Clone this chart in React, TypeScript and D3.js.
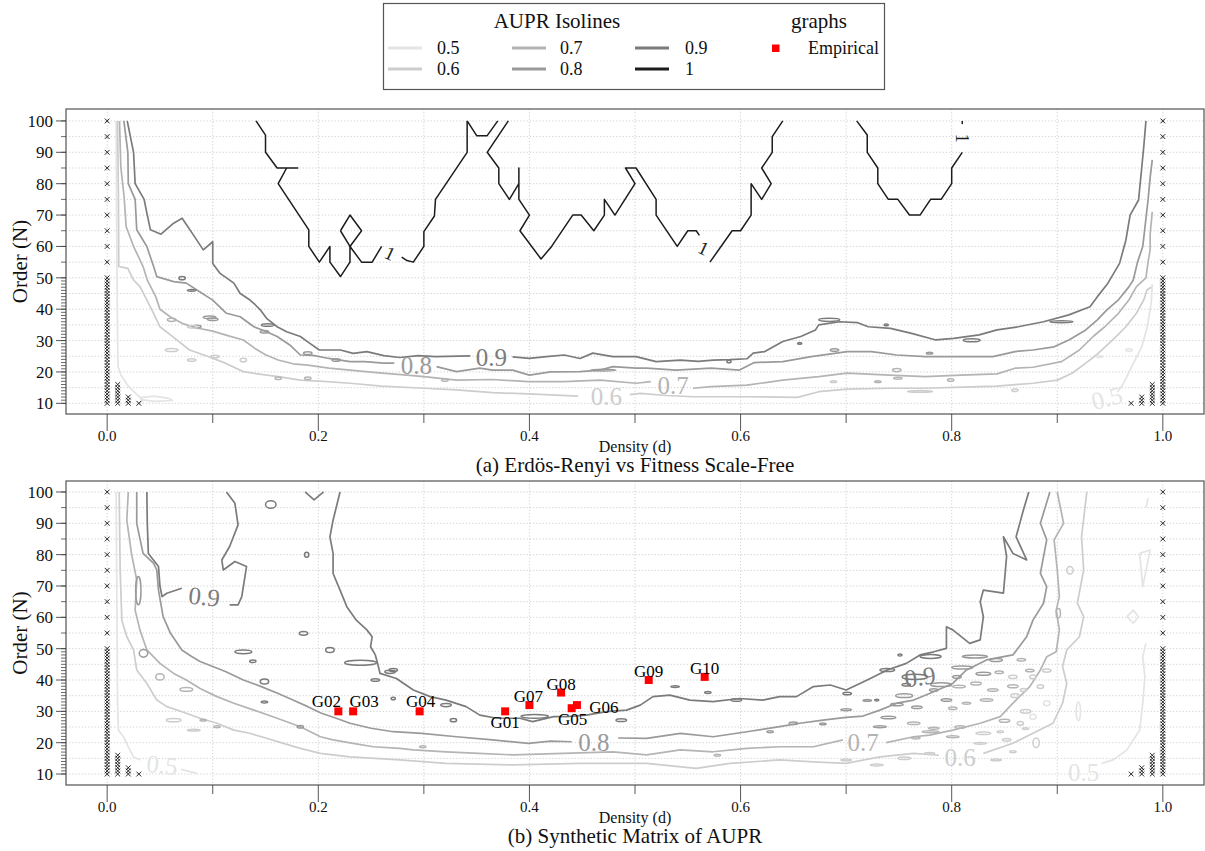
import React from 'react';
import * as d3 from 'd3';

type P = [number, number];

// ---------- levels / colours ----------
const LEVELS = ['0.5', '0.6', '0.7', '0.8', '0.9', '1'];
const LEVEL_COLORS: Record<string, string> = {
  '0.5': '#e4e4e4', '0.6': '#cdcdcd', '0.7': '#b4b4b4', '0.8': '#9a9a9a', '0.9': '#7b7b7b', '1': '#1c1c1c',
};

// ---------- grid of orders (N) used in the simulation ----------
const ORDERS = [10, 11, 12, 13, 14, 15, 16, 17, 18, 19, 20, 21, 22, 23, 24, 25, 26, 27, 28, 29, 30, 31, 32, 33, 34, 35, 36, 37, 38, 39, 40, 41, 42, 43, 44, 45, 46, 47, 48, 49, 50, 55, 60, 65, 70, 75, 80, 85, 90, 95, 100];
const X_MAJOR = [0, 0.2, 0.4, 0.6, 0.8, 1.0];
const X_MINOR = [0.1, 0.3, 0.5, 0.7, 0.9];
const X_GRID = [0, 0.1, 0.2, 0.3, 0.4, 0.5, 0.6, 0.7, 0.8, 0.9, 1.0];
const Y_MAJOR = [10, 20, 30, 40, 50, 60, 70, 80, 90, 100];
const Y_GRID = [10, 15, 20, 25, 30, 35, 40, 45, 50, 55, 60, 65, 70, 75, 80, 85, 90, 95, 100];

// cells without any edge (marked with x)
const EMPTY_COLS: [number, number[]][] = [
  [0, ORDERS],
  [0.01, [10, 11, 12, 13, 14, 15, 16]],
  [0.02, [10, 11, 12]],
  [0.03, [10]],
  [0.97, [10]],
  [0.98, [10, 11, 12]],
  [0.99, [10, 11, 12, 13, 14, 15, 16]],
  [1, ORDERS],
];

// ---------- panel (a) isolines ----------
const A_ISO_1: P[][] = [
  [[0.141, 100], [0.150, 95.5], [0.150, 90], [0.161, 85], [0.181, 85]],
  [[0.170, 85], [0.162, 80], [0.191, 65.3], [0.191, 60], [0.201, 55], [0.211, 60], [0.211, 55], [0.221, 50.4], [0.230, 55], [0.230, 60], [0.241, 55], [0.251, 55], [0.260, 60]],
  [[0.221, 65], [0.230, 70], [0.241, 65], [0.230, 60], [0.221, 65]],
  [[0.279, 56.6], [0.284, 55.5], [0.290, 55], [0.300, 60], [0.300, 64.7], [0.310, 69.7], [0.311, 75], [0.341, 90], [0.341, 100]],
  [[0.341, 100], [0.350, 95.3], [0.360, 95.3], [0.370, 100]],
  [[0.380, 100], [0.360, 90], [0.371, 85], [0.371, 80], [0.381, 75], [0.390, 80], [0.390, 85], [0.390, 75], [0.400, 70], [0.391, 65], [0.411, 56], [0.421, 60], [0.441, 70], [0.449, 70], [0.461, 65], [0.471, 70], [0.471, 75], [0.481, 70], [0.500, 80], [0.491, 85], [0.501, 85], [0.520, 75], [0.520, 70], [0.540, 60], [0.550, 65], [0.558, 65], [0.561, 63.5]],
  [[0.571, 55], [0.592, 65], [0.600, 65], [0.610, 70], [0.610, 80], [0.620, 75], [0.629, 80], [0.620, 85], [0.630, 90], [0.630, 95], [0.640, 100]],
  [[0.710, 100], [0.720, 95.5], [0.720, 90], [0.730, 85], [0.730, 80], [0.740, 75], [0.749, 75], [0.760, 70], [0.770, 70], [0.780, 75], [0.790, 75], [0.800, 80], [0.800, 85], [0.810, 90]],
  [[0.810, 99], [0.810, 100]],
];
const A_ISO_09: P[][] = [
  [[0.019, 100], [0.022, 95], [0.025, 90], [0.0265, 80], [0.035, 75], [0.038, 70], [0.041, 65.3], [0.051, 63.9], [0.063, 67.4], [0.071, 69], [0.081, 64], [0.091, 58.9], [0.100, 61.5], [0.100, 54.6], [0.107, 51.4], [0.120, 48.3], [0.126, 45], [0.135, 43], [0.140, 41.5], [0.145, 39.8], [0.151, 37.1], [0.161, 34.4], [0.170, 32.8], [0.183, 31.3], [0.192, 29.1], [0.201, 27], [0.221, 27], [0.233, 25.9], [0.246, 26.5], [0.262, 25.2], [0.277, 24.6], [0.295, 25.2], [0.311, 24.9], [0.344, 25.1]],
  [[0.384, 24.8], [0.400, 24.3], [0.416, 24.9], [0.433, 25.4], [0.448, 24.3], [0.460, 26], [0.479, 24.9], [0.501, 24.9], [0.520, 23.3], [0.543, 23.8], [0.560, 23.4], [0.574, 23.8], [0.590, 23.9], [0.606, 24.2], [0.612, 26], [0.623, 26.5], [0.640, 29.7], [0.657, 31.3], [0.671, 33.4], [0.674, 35], [0.694, 36], [0.711, 35.7], [0.721, 34.4], [0.742, 33.9], [0.762, 32.3], [0.785, 30.2], [0.802, 30.7], [0.826, 31.8], [0.843, 33.4], [0.863, 34.4], [0.887, 36], [0.911, 38.2], [0.931, 40.8], [0.938, 44], [0.948, 48.3], [0.959, 54.6], [0.965, 62], [0.969, 70], [0.977, 74.8], [0.980, 85], [0.982, 92], [0.984, 100]],
];
const A_ISO_08: P[][] = [
  [[0.0158, 100], [0.0196, 90], [0.020, 80], [0.0265, 75], [0.028, 65.3], [0.0376, 60], [0.044, 53.6], [0.047, 50.4], [0.063, 48.8], [0.075, 48.3], [0.085, 46.1], [0.100, 42.9], [0.113, 38.7], [0.126, 37.6], [0.139, 34.4], [0.151, 32.8], [0.161, 31.3], [0.173, 28.6], [0.183, 25.4], [0.195, 25.3], [0.210, 24.3], [0.230, 23.3], [0.244, 23.3], [0.262, 22.8], [0.272, 22.8]],
  [[0.312, 21.7], [0.331, 20.1], [0.353, 21.2], [0.365, 20.6], [0.384, 20.6], [0.400, 19], [0.420, 20], [0.448, 20.1], [0.467, 20.6], [0.479, 21.7], [0.501, 21.2], [0.511, 21.2], [0.539, 20.6], [0.572, 21.2], [0.599, 20.6], [0.613, 23], [0.640, 23.3], [0.667, 24.9], [0.701, 26.5], [0.724, 26.5], [0.748, 25.4], [0.775, 24.9], [0.809, 24.9], [0.839, 24.9], [0.860, 26.5], [0.877, 27], [0.897, 28], [0.911, 30.2], [0.927, 33.4], [0.938, 36.6], [0.947, 39.8], [0.958, 43], [0.968, 47.2], [0.972, 49.3], [0.976, 55], [0.981, 60], [0.986, 74.8], [0.988, 82], [0.990, 87.6]],
];
const A_ISO_07: P[][] = [
  [[0.0117, 100], [0.0129, 85.5], [0.016, 75.9], [0.018, 66.3], [0.025, 60], [0.034, 53.6], [0.038, 49.3], [0.046, 44], [0.050, 40], [0.060, 37.5], [0.071, 35.5], [0.085, 34], [0.100, 33], [0.115, 31.5], [0.129, 30.2], [0.140, 27.5], [0.150, 25.5], [0.162, 23.8], [0.176, 22.6], [0.190, 22.2], [0.210, 21.2], [0.230, 20.6], [0.255, 19.8], [0.284, 19], [0.300, 18.5], [0.331, 17.4], [0.365, 17.6], [0.399, 16.9], [0.433, 16.9], [0.467, 17.4], [0.501, 16.4], [0.515, 16.9]],
  [[0.555, 14.8], [0.572, 15.3], [0.606, 15.8], [0.640, 17.4], [0.674, 18.5], [0.701, 19.6], [0.741, 19], [0.775, 18.5], [0.809, 19], [0.843, 19.4], [0.860, 21.2], [0.877, 21.5], [0.904, 23.3], [0.921, 27], [0.934, 31.3], [0.945, 34.4], [0.958, 38.7], [0.968, 43], [0.975, 47.2], [0.984, 50], [0.986, 55], [0.988, 59], [0.988, 64], [0.990, 71]],
];
const A_ISO_06: P[][] = [
  [[0.0098, 100], [0.0107, 75], [0.011, 53.6], [0.0196, 53], [0.025, 49.3], [0.031, 47.2], [0.0376, 43], [0.044, 38.7], [0.050, 34.4], [0.063, 31], [0.078, 27], [0.095, 25], [0.112, 22.8], [0.129, 20.1], [0.146, 19.2], [0.162, 18.5], [0.183, 17.4], [0.205, 17], [0.230, 16.4], [0.260, 15.5], [0.300, 14.8], [0.331, 14.3], [0.365, 13.4], [0.399, 13], [0.446, 12.3]],
  [[0.495, 12.8], [0.505, 13.2], [0.530, 12.5], [0.555, 12.1], [0.606, 12.1], [0.654, 11.9], [0.674, 13.7], [0.701, 14.5], [0.741, 14.8], [0.775, 14.8], [0.802, 15.1], [0.843, 15.5], [0.877, 16.4], [0.900, 17.4], [0.914, 19.6], [0.927, 22.8], [0.937, 25.4], [0.954, 30.7], [0.965, 34.4], [0.975, 38.7], [0.982, 43], [0.985, 46.1], [0.989, 47]],
];
const A_ISO_05: P[][] = [
  [[0.0085, 100], [0.009, 64], [0.0098, 32], [0.0103, 21.7], [0.013, 19], [0.0204, 15.3], [0.026, 13.5], [0.034, 11], [0.030, 10]],
  [[0.032, 11.8], [0.045, 12.3], [0.058, 11.6], [0.062, 10.9], [0.045, 10.6], [0.032, 11.2], [0.032, 11.8]],
  [[0.957, 13.5], [0.963, 16.5], [0.971, 22], [0.980, 28], [0.985, 34], [0.989, 42], [0.990, 48]],
];

// islands: [level, d, N, half-width in d, half-height in N]
const A_ISLANDS: [string, number, number, number, number][] = [
  ['0.9', 0.071, 49.9, 0.003, 0.5], ['0.9', 0.080, 46, 0.004, 0.3], ['0.8', 0.100, 36.8, 0.005, 0.4],
  ['0.8', 0.085, 34.5, 0.004, 0.4], ['0.7', 0.061, 36.6, 0.004, 0.5], ['0.6', 0.081, 34.4, 0.005, 0.4],
  ['0.8', 0.097, 37.4, 0.006, 0.4], ['0.9', 0.152, 35, 0.006, 0.4], ['0.8', 0.149, 32.8, 0.004, 0.4],
  ['0.8', 0.190, 26, 0.004, 0.4], ['0.8', 0.217, 23.8, 0.004, 0.4], ['0.6', 0.061, 27, 0.006, 0.5],
  ['0.6', 0.080, 23.8, 0.004, 0.4], ['0.6', 0.102, 24.9, 0.004, 0.4], ['0.6', 0.129, 23.8, 0.003, 0.6],
  ['0.7', 0.162, 18, 0.003, 0.4], ['0.7', 0.190, 18, 0.003, 0.4], ['0.7', 0.320, 17.4, 0.003, 0.4],
  ['0.8', 0.470, 20.6, 0.012, 0.3], ['0.9', 0.684, 36.6, 0.010, 0.5], ['0.9', 0.819, 30.1, 0.008, 0.5],
  ['0.9', 0.904, 36, 0.011, 0.3], ['0.8', 0.689, 27, 0.004, 0.4], ['0.7', 0.748, 20.6, 0.004, 0.5],
  ['0.7', 0.749, 18, 0.004, 0.3], ['0.7', 0.799, 17.4, 0.003, 0.4], ['0.6', 0.860, 14.2, 0.003, 0.4],
  ['0.6', 0.770, 13.8, 0.012, 0.3], ['0.5', 0.968, 27, 0.003, 0.4], ['0.9', 0.589, 23.3, 0.002, 0.4],
  ['0.9', 0.738, 35, 0.002, 0.3], ['0.9', 0.656, 29.1, 0.002, 0.3], ['0.8', 0.779, 26, 0.003, 0.3],
  ['0.7', 0.730, 16.9, 0.003, 0.3], ['0.6', 0.688, 16.9, 0.003, 0.3], ['0.5', 0.940, 24.9, 0.003, 0.3],
];
// labels: [level, d, N, rotation]
const A_LABELS: [string, number, number, number][] = [
  ['0.8', 0.293, 21.9, 0], ['0.9', 0.364, 24.6, 0], ['0.7', 0.536, 15.8, 0], ['0.6', 0.473, 12.3, 0],
  ['0.5', 0.947, 11.7, -15], ['1', 0.268, 57.8, 25], ['1', 0.565, 59.5, 25], ['1', 0.810, 94.5, 90],
];

// ---------- panel (b) isolines ----------
const B_ISO_09: P[][] = [
  [[0.0376, 100], [0.038, 90], [0.039, 80.4], [0.0486, 76.2], [0.050, 70], [0.052, 66.6], [0.0565, 67.7], [0.0707, 69.3]],
  [[0.116, 64], [0.124, 64], [0.1275, 66.6], [0.132, 76.2], [0.121, 77.8], [0.110, 75.1], [0.1086, 78.3], [0.116, 82.6], [0.124, 89.5], [0.121, 96.4], [0.113, 100]],
  [[0.2206, 100], [0.214, 91], [0.211, 85.7], [0.214, 80.4], [0.214, 74], [0.2206, 68.7], [0.227, 63.4], [0.236, 59.1], [0.246, 56], [0.251, 53.8], [0.2495, 50.6], [0.254, 48], [0.256, 45.5], [0.2585, 42.1], [0.274, 40.5], [0.290, 36.8], [0.306, 34.7], [0.321, 33.6], [0.340, 31.5], [0.353, 28.8], [0.369, 27.8], [0.391, 27.8], [0.403, 26.7], [0.423, 28.3], [0.435, 28.3], [0.454, 28.8], [0.473, 29.9], [0.492, 30.4], [0.505, 32], [0.517, 34.7], [0.533, 35.2], [0.552, 33.6], [0.574, 33.1], [0.599, 34.1], [0.621, 33.6], [0.637, 34.7], [0.653, 34.7], [0.669, 37.9], [0.685, 38.4], [0.700, 36.8], [0.720, 40], [0.739, 43.2], [0.757, 45.3], [0.770, 48], [0.783, 49], [0.795, 50.1], [0.795, 57], [0.801, 56], [0.817, 51.7], [0.827, 52.8], [0.830, 60.2], [0.827, 65], [0.830, 68.7], [0.849, 67.7], [0.852, 79.4], [0.849, 85.7], [0.858, 80.4], [0.871, 78.3], [0.861, 85.7], [0.868, 94.3], [0.873, 100]],
  [[0.1875, 100], [0.196, 97.5], [0.205, 100]],
];
const B_ISO_08: P[][] = [
  [[0.028, 100], [0.028, 90], [0.034, 80.4], [0.044, 77.2], [0.047, 75.1], [0.0486, 68.7], [0.053, 60.2], [0.060, 54.9], [0.0707, 49.6], [0.080, 47.5], [0.088, 45.9], [0.100, 44.3], [0.112, 42.7], [0.129, 40], [0.146, 37.9], [0.162, 35.7], [0.176, 33.6], [0.190, 31.5], [0.203, 29.4], [0.217, 27.8], [0.230, 26.2], [0.250, 24.6], [0.271, 23.5], [0.298, 23], [0.331, 21.9], [0.365, 20.9], [0.399, 19.8], [0.420, 20.5], [0.440, 20.3]],
  [[0.484, 21.5], [0.511, 21.4], [0.543, 23], [0.574, 21.9], [0.606, 23.5], [0.637, 25.1], [0.656, 26.2], [0.678, 27.2], [0.700, 28.1], [0.716, 28.5], [0.732, 30.4], [0.748, 32.6], [0.764, 33.6], [0.779, 35.7], [0.801, 38.9], [0.814, 43.2], [0.833, 46.4], [0.858, 48], [0.871, 53.8], [0.877, 59.1], [0.887, 64.5], [0.890, 69.8], [0.884, 74], [0.890, 84.7], [0.884, 90], [0.893, 100]],
];
const B_ISO_07: P[][] = [
  [[0.020, 100], [0.0186, 91], [0.023, 80.4], [0.028, 71.9], [0.0265, 62.3], [0.031, 56], [0.0376, 49.6], [0.050, 45.3], [0.063, 42.1], [0.075, 40], [0.088, 37.3], [0.104, 34.7], [0.120, 32.6], [0.139, 30.4], [0.161, 27.8], [0.183, 25.1], [0.202, 21.9], [0.214, 20.9], [0.233, 19.8], [0.252, 18.7], [0.277, 18.2], [0.290, 17.7], [0.321, 17.1], [0.352, 16.6], [0.385, 16.1], [0.432, 16.6], [0.479, 17.1], [0.511, 16.1], [0.543, 17.7], [0.574, 17.1], [0.606, 18.2], [0.637, 18.7], [0.669, 18.7], [0.697, 20.9]],
  [[0.738, 20], [0.764, 21.9], [0.779, 22.4], [0.801, 24], [0.827, 26.2], [0.846, 28.3], [0.858, 32.6], [0.874, 37.9], [0.884, 43.2], [0.890, 47.4], [0.899, 49], [0.902, 56], [0.899, 62.3], [0.902, 66.6], [0.900, 75.1], [0.897, 84.7], [0.906, 90], [0.900, 100]],
];
const B_ISO_06: P[][] = [
  [[0.0114, 100], [0.0123, 75.1], [0.0139, 59.1], [0.0186, 53.8], [0.025, 49.6], [0.028, 43.2], [0.0376, 38.9], [0.047, 33.6], [0.0565, 31.5], [0.075, 29.4], [0.088, 27.8], [0.104, 26.2], [0.120, 24], [0.135, 23], [0.151, 21.4], [0.167, 19.8], [0.183, 18.2], [0.202, 16.6], [0.230, 15.5], [0.277, 14.5], [0.321, 13.4], [0.385, 12.9], [0.448, 13.4], [0.511, 13.4], [0.558, 11.8], [0.590, 13.4], [0.637, 14.5], [0.669, 13.9], [0.700, 13.4], [0.732, 15.5], [0.764, 16.6], [0.788, 16]],
  [[0.830, 16.6], [0.858, 19.8], [0.877, 23], [0.896, 26.2], [0.905, 32.6], [0.909, 38.9], [0.905, 44.3], [0.909, 49.6], [0.921, 53.8], [0.925, 60.2], [0.919, 64.5], [0.925, 75.1], [0.923, 85.7], [0.928, 100]],
];
const B_ISO_05: P[][] = [
  [[0.0085, 100], [0.0092, 64.5], [0.0098, 32.6], [0.0107, 24], [0.0155, 21.9], [0.020, 18.7], [0.025, 15.5], [0.031, 14.5]],
  [[0.070, 11.5], [0.085, 10.2]],
  [[0.942, 13.4], [0.953, 14.5], [0.966, 17.7], [0.978, 24], [0.981, 32.6], [0.983, 41], [0.981, 47.4], [0.984, 51.7]],
  [[0.966, 60.2], [0.972, 62.3], [0.977, 60.2], [0.972, 58.1], [0.966, 60.2]],
  [[0.978, 80.4], [0.988, 81.5], [0.981, 69.8], [0.978, 80.4]],
  [[0.984, 95], [0.986, 98]],
];
const B_ISLANDS: [string, number, number, number, number][] = [
  ['0.8', 0.0344, 48.5, 0.004, 1.2], ['0.7', 0.050, 41, 0.004, 1.0], ['0.7', 0.075, 37, 0.006, 0.6],
  ['0.6', 0.063, 27.2, 0.007, 0.5], ['0.7', 0.091, 27.2, 0.003, 0.3], ['0.7', 0.104, 25.1, 0.003, 0.3],
  ['0.6', 0.082, 24, 0.006, 0.3], ['0.8', 0.0295, 68.5, 0.0025, 4.5], ['0.9', 0.129, 49, 0.008, 0.6],
  ['0.9', 0.138, 46, 0.003, 0.4], ['0.9', 0.186, 54.9, 0.004, 0.6], ['0.9', 0.189, 80, 0.002, 0.8],
  ['0.9', 0.211, 49.6, 0.004, 0.8], ['0.9', 0.155, 96, 0.005, 1.2], ['0.9', 0.240, 45.5, 0.015, 0.8],
  ['0.9', 0.271, 43.2, 0.004, 0.5], ['0.9', 0.254, 40, 0.004, 0.4], ['0.9', 0.149, 39.5, 0.004, 0.8],
  ['0.9', 0.149, 33, 0.003, 0.3], ['0.8', 0.183, 25.1, 0.003, 0.4], ['0.9', 0.328, 27.2, 0.003, 0.5],
  ['0.9', 0.405, 28.4, 0.013, 0.6], ['0.9', 0.487, 27.2, 0.005, 0.4], ['0.9', 0.271, 34.1, 0.002, 0.4],
  ['0.9', 0.321, 32, 0.005, 0.5], ['0.9', 0.268, 42.6, 0.005, 0.5], ['0.9', 0.596, 33.6, 0.005, 0.4],
  ['0.9', 0.538, 37.9, 0.004, 0.3], ['0.9', 0.569, 36, 0.003, 0.3], ['0.8', 0.650, 26.2, 0.004, 0.4],
  ['0.8', 0.628, 23.5, 0.003, 0.3], ['0.7', 0.578, 16, 0.003, 0.3], ['0.7', 0.299, 18.7, 0.003, 0.3],
  ['0.9', 0.751, 48, 0.002, 0.3], ['0.9', 0.780, 47.5, 0.010, 0.6], ['0.9', 0.739, 43.2, 0.007, 0.5],
  ['0.9', 0.765, 41, 0.012, 0.8], ['0.9', 0.701, 35.7, 0.004, 0.4], ['0.8', 0.755, 35, 0.008, 0.6],
  ['0.8', 0.790, 38.5, 0.010, 0.6], ['0.8', 0.810, 44, 0.010, 0.5], ['0.8', 0.822, 47.5, 0.012, 0.5],
  ['0.8', 0.842, 46.4, 0.006, 0.5], ['0.8', 0.830, 42, 0.007, 0.5], ['0.7', 0.801, 31, 0.004, 0.4],
  ['0.7', 0.833, 33.6, 0.006, 0.4], ['0.7', 0.858, 38, 0.005, 0.5], ['0.7', 0.874, 43, 0.004, 0.4],
  ['0.6', 0.890, 43, 0.004, 0.5], ['0.8', 0.740, 28, 0.007, 0.4], ['0.8', 0.700, 30.5, 0.005, 0.3],
  ['0.8', 0.678, 26, 0.003, 0.3], ['0.7', 0.808, 25, 0.005, 0.4], ['0.7', 0.766, 21.5, 0.004, 0.3],
  ['0.7', 0.780, 23.5, 0.008, 0.3], ['0.6', 0.830, 23, 0.007, 0.4], ['0.6', 0.846, 23.5, 0.003, 0.3],
  ['0.6', 0.755, 15, 0.006, 0.4], ['0.7', 0.850, 27, 0.005, 0.5], ['0.6', 0.870, 30, 0.005, 0.6],
  ['0.6', 0.860, 35, 0.004, 0.6], ['0.6', 0.880, 20, 0.003, 1.5], ['0.5', 0.920, 30, 0.002, 3],
  ['0.6', 0.912, 75, 0.003, 1.2], ['0.7', 0.901, 61.3, 0.002, 1.5],
  ['0.9', 0.729, 33.6, 0.002, 0.3], ['0.8', 0.748, 32.2, 0.006, 0.4], ['0.8', 0.767, 31.3, 0.005, 0.4],
  ['0.8', 0.783, 36.8, 0.004, 0.4], ['0.8', 0.795, 33.6, 0.005, 0.4], ['0.7', 0.807, 37.9, 0.006, 0.4],
  ['0.7', 0.823, 38.9, 0.005, 0.5], ['0.7', 0.814, 32.6, 0.004, 0.3], ['0.7', 0.839, 36.8, 0.005, 0.4],
  ['0.6', 0.858, 41, 0.004, 0.5], ['0.6', 0.868, 36.8, 0.003, 0.5], ['0.6', 0.877, 41, 0.003, 0.6],
  ['0.6', 0.884, 37.9, 0.003, 0.6], ['0.5', 0.890, 32.6, 0.003, 0.8], ['0.8', 0.732, 25.1, 0.006, 0.3],
  ['0.7', 0.764, 26.2, 0.006, 0.4], ['0.7', 0.783, 24.6, 0.005, 0.3], ['0.7', 0.801, 21.9, 0.006, 0.3],
  ['0.6', 0.827, 19.8, 0.006, 0.3], ['0.6', 0.852, 20.9, 0.004, 0.4], ['0.6', 0.865, 26.2, 0.003, 0.6],
  ['0.5', 0.877, 28.3, 0.003, 0.8], ['0.6', 0.779, 16.6, 0.005, 0.3], ['0.6', 0.842, 14.5, 0.005, 0.3],
  ['0.6', 0.858, 17.1, 0.003, 0.3], ['0.6', 0.700, 14.5, 0.005, 0.3], ['0.6', 0.729, 12.9, 0.006, 0.3],
  ['0.8', 0.720, 33.5, 0.004, 0.3], ['0.9', 0.757, 38.5, 0.004, 0.4], ['0.8', 0.805, 41, 0.004, 0.4],
  ['0.7', 0.845, 42.5, 0.004, 0.4], ['0.7', 0.866, 46.5, 0.004, 0.4], ['0.6', 0.870, 24.5, 0.003, 0.3],
];
const B_LABELS: [string, number, number, number][] = [
  ['0.9', 0.092, 66.6, 6], ['0.5', 0.052, 12.9, 6], ['0.8', 0.461, 20.2, 0], ['0.9', 0.770, 41, -8],
  ['0.7', 0.716, 20.2, 0], ['0.6', 0.808, 15.4, 0], ['0.5', 0.925, 10.6, 0],
];

// ---------- empirical graphs ----------
const GRAPH_NAMES = ['G01', 'G02', 'G03', 'G04', 'G05', 'G06', 'G07', 'G08', 'G09', 'G10'];
const GRAPH_DENSITY = [0.377, 0.219, 0.233, 0.296, 0.440, 0.445, 0.400, 0.430, 0.513, 0.566];
const GRAPH_ORDER = [30, 30, 30, 30, 31, 32, 32, 36, 40, 41];
// label offsets in pixels (text centre x, baseline y) relative to the point
const GRAPH_LABEL_OFFSET: [number, number][] = [
  [0, 17], [-12, -4], [11, -4], [1, -4], [1, 17], [27, 8], [-1, -3], [0, -3], [0, -3], [0, -3],
];

const FONT = "'Liberation Serif', 'Times New Roman', Times, serif";
const X_RANGE: [number, number] = [66, 1204];
const X_DOMAIN: [number, number] = [-0.039, 1.039];

type PanelProps = {
  top: number; bottom: number; yDomain: [number, number]; title: string;
  iso: Record<string, P[][]>; islands: [string, number, number, number, number][];
  labels: [string, number, number, number][]; showGraphs: boolean; id: string;
};

const T = (size: number): React.CSSProperties => ({ fontFamily: FONT, fontSize: size });

function Panel(props: PanelProps) {
  const { top, bottom, yDomain, title, iso, islands, labels, showGraphs, id } = props;
  const x = d3.scaleLinear().domain(X_DOMAIN).range(X_RANGE);
  const y = d3.scaleLinear().domain(yDomain).range([bottom, top]);
  const line = d3.line<P>().x((p) => x(p[0])).y((p) => y(p[1]));
  const [x0, x1] = X_RANGE;
  const cx = (x0 + x1) / 2;
  return (
    <g>
      <defs>
        <clipPath id={id}>
          <rect x={x0} y={top} width={x1 - x0} height={bottom - top} />
        </clipPath>
      </defs>
      <rect x={x0} y={top} width={x1 - x0} height={bottom - top} fill="#fff" />
      {X_GRID.map((v) => (
        <line key={'gx' + v} x1={x(v)} x2={x(v)} y1={top} y2={bottom} stroke="#c4c4c4" strokeWidth={0.8} strokeDasharray="1.2,2" />
      ))}
      {Y_GRID.map((v) => (
        <line key={'gy' + v} x1={x0} x2={x1} y1={y(v)} y2={y(v)} stroke="#c4c4c4" strokeWidth={0.8} strokeDasharray="1.2,2" />
      ))}
      <g clipPath={`url(#${id})`}>
        {LEVELS.map((lv) =>
          (iso[lv] || []).map((pts, i) => (
            <path key={lv + '-' + i} d={line(pts) || ''} fill="none" stroke={LEVEL_COLORS[lv]} strokeWidth={lv === '1' ? 1.5 : 1.7} strokeLinejoin="round" />
          ))
        )}
        {islands.map(([lv, d, n, rd, rn], i) => (
          <ellipse key={'is' + i} cx={x(d)} cy={y(n)} rx={Math.abs(x(d + rd) - x(d))} ry={Math.abs(y(n + rn) - y(n))} fill="none" stroke={LEVEL_COLORS[lv]} strokeWidth={1.5} />
        ))}
        {labels.map(([lv, d, n, rot], i) => (
          <text key={'lb' + i} transform={`translate(${x(d)},${y(n)}) rotate(${rot})`} textAnchor="middle" dominantBaseline="central" style={T(lv === '1' ? 19 : 25)} fill={LEVEL_COLORS[lv]}>{lv}</text>
        ))}
        {EMPTY_COLS.map(([d, ns]) =>
          ns.map((n) => {
            const px = x(d), py = y(n), s = 2.4;
            return (
              <g key={'m' + d + '-' + n} stroke="#111" strokeWidth={0.9}>
                <line x1={px - s} y1={py - s} x2={px + s} y2={py + s} />
                <line x1={px - s} y1={py + s} x2={px + s} y2={py - s} />
              </g>
            );
          })
        )}
        {showGraphs && GRAPH_NAMES.map((g, i) => {
          const px = x(GRAPH_DENSITY[i]), py = y(GRAPH_ORDER[i]);
          return <rect key={'gp' + g} x={px - 4} y={py - 4} width={8} height={8} fill="#ff0000" />;
        })}
        {showGraphs && GRAPH_NAMES.map((g, i) => {
          const px = x(GRAPH_DENSITY[i]), py = y(GRAPH_ORDER[i]);
          const [dx, dy] = GRAPH_LABEL_OFFSET[i];
          return <text key={'gl' + g} x={px + dx} y={py + dy} textAnchor="middle" style={T(17)} fill="#000">{g}</text>;
        })}
      </g>
      <rect x={x0} y={top} width={x1 - x0} height={bottom - top} fill="none" stroke="#606060" strokeWidth={1.3} />
      {ORDERS.map((n) => (
        <line key={'yt' + n} x1={x0} x2={x0 - 5} y1={y(n)} y2={y(n)} stroke="#444" strokeWidth={0.8} />
      ))}
      {Y_MAJOR.map((n) => (
        <g key={'ym' + n}>
          <line x1={x0} x2={x0 - 10} y1={y(n)} y2={y(n)} stroke="#444" strokeWidth={0.9} />
          <text x={x0 - 13} y={y(n)} dy="0.35em" textAnchor="end" style={T(17)} fill="#111">{n}</text>
        </g>
      ))}
      <text transform={`translate(27,${(top + bottom) / 2}) rotate(-90)`} textAnchor="middle" style={T(21)} fill="#111">Order (N)</text>
      {X_MINOR.map((v) => (
        <line key={'xm' + v} x1={x(v)} x2={x(v)} y1={bottom} y2={bottom + 9} stroke="#444" strokeWidth={0.9} />
      ))}
      {X_MAJOR.map((v) => (
        <g key={'xM' + v}>
          <line x1={x(v)} x2={x(v)} y1={bottom} y2={bottom + 17} stroke="#444" strokeWidth={0.9} />
          <text x={x(v)} y={bottom + 27} textAnchor="middle" style={T(15)} fill="#111">{v.toFixed(1)}</text>
        </g>
      ))}
      <text x={cx} y={bottom + 38} textAnchor="middle" style={T(16)} fill="#111">Density (d)</text>
      <text x={cx} y={bottom + 58} textAnchor="middle" style={T(21)} fill="#111">{title}</text>
    </g>
  );
}

function Legend() {
  const cols = [[388, 422, 437], [512, 546, 560], [635, 669, 685]];
  const rows = [48, 69];
  return (
    <g>
      <rect x={383.5} y={3.5} width={501} height={86} fill="#fff" stroke="#555" strokeWidth={1.2} />
      <text x={557} y={28} textAnchor="middle" style={T(21)} fill="#111">AUPR Isolines</text>
      <text x={819} y={28} textAnchor="middle" style={T(21)} fill="#111">graphs</text>
      {LEVELS.map((lv, i) => {
        const c = cols[Math.floor(i / 2)], r = rows[i % 2];
        return (
          <g key={'lg' + lv}>
            <line x1={c[0]} x2={c[1]} y1={r} y2={r} stroke={LEVEL_COLORS[lv]} strokeWidth={2.8} />
            <text x={c[2]} y={r} dy="0.35em" style={T(18)} fill="#111">{lv}</text>
          </g>
        );
      })}
      <rect x={772} y={44.5} width={7.5} height={7.5} fill="#ff0000" />
      <text x={808} y={48} dy="0.35em" style={T(18)} fill="#111">Empirical</text>
    </g>
  );
}

export default function App() {
  return (
    <svg width={1205} height={851} viewBox="0 0 1205 851" style={{ position: 'absolute', left: 0, top: 0, background: '#fff' }}>
      <rect x={0} y={0} width={1205} height={851} fill="#fff" />
      <Legend />
      <Panel id="clipA" top={109} bottom={414} yDomain={[6.6, 103.8]} title="(a) Erdös-Renyi vs Fitness Scale-Free"
        iso={{ '1': A_ISO_1, '0.9': A_ISO_09, '0.8': A_ISO_08, '0.7': A_ISO_07, '0.6': A_ISO_06, '0.5': A_ISO_05 }}
        islands={A_ISLANDS} labels={A_LABELS} showGraphs={false} />
      <Panel id="clipB" top={481} bottom={785} yDomain={[6.5, 103.5]} title="(b) Synthetic Matrix of AUPR"
        iso={{ '0.9': B_ISO_09, '0.8': B_ISO_08, '0.7': B_ISO_07, '0.6': B_ISO_06, '0.5': B_ISO_05 }}
        islands={B_ISLANDS} labels={B_LABELS} showGraphs={true} />
    </svg>
  );
}
